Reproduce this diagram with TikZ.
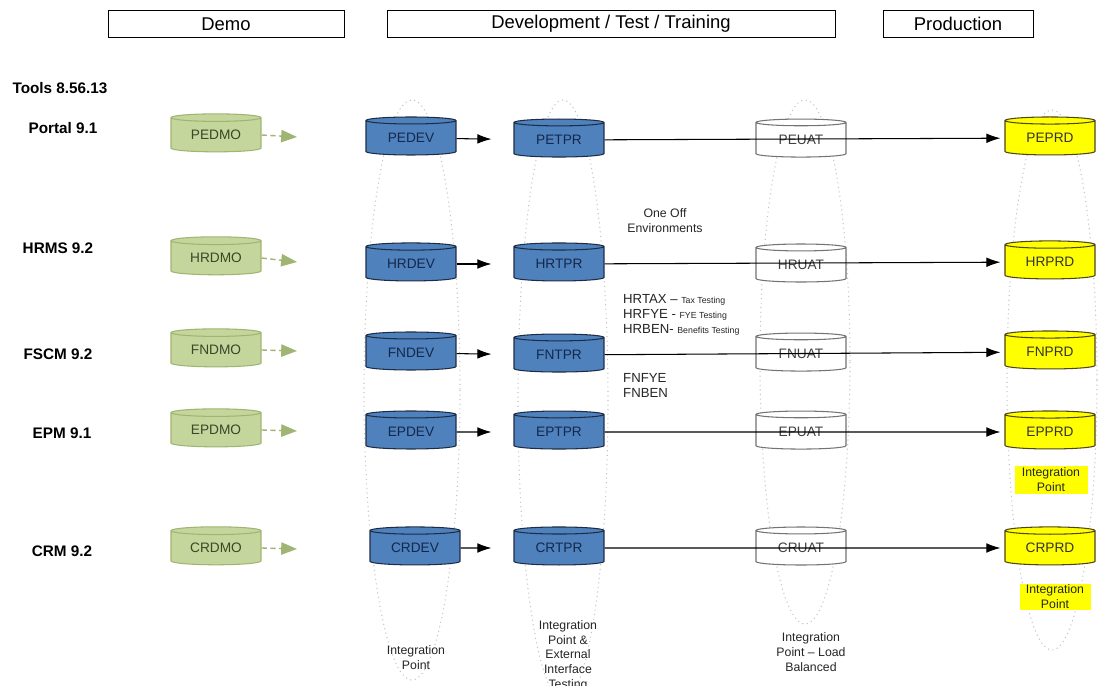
\documentclass[tikz,border=0pt]{standalone}
\usepackage{fontspec}
\setmainfont{Liberation Sans}
\usetikzlibrary{shapes.geometric,arrows.meta}

\definecolor{demofill}{RGB}{196,214,155}
\definecolor{demoedge}{RGB}{160,180,115}
\definecolor{demotext}{RGB}{60,70,40}
\definecolor{devfill}{RGB}{79,129,189}
\definecolor{devedge}{RGB}{30,45,70}
\definecolor{devtext}{RGB}{20,40,75}
\definecolor{prdfill}{RGB}{255,255,0}
\definecolor{prdedge}{RGB}{80,70,20}
\definecolor{ringgray}{RGB}{195,195,195}

\begin{document}
\begin{tikzpicture}[x=0.02cm, y=-0.02cm,
    db/.style={cylinder, shape border rotate=90, aspect=0.15, draw, line width=0.6pt,
      minimum width=1.8cm, minimum height=0.76cm, inner sep=0pt,
      font=\fontsize{7.8}{9}\selectfont},
    demodb/.style={db, draw=demoedge, fill=demofill, text=demotext},
    devdb/.style={db, draw=devedge, fill=devfill, text=devtext},
    uatdb/.style={db, draw=black!55, fill=white, text=black!75},
    prddb/.style={db, draw=prdedge, fill=prdfill, text=black!80},
    header/.style={draw, line width=0.5pt, minimum height=0.54cm, inner sep=0pt,
      font=\fontsize{10.5}{12}\selectfont},
    rowlabel/.style={font=\fontsize{8.7}{10}\selectfont\bfseries},
    note/.style={align=center, text=black!85, font=\fontsize{7}{8.5}\selectfont},
    ring/.style={ringgray, dotted, line width=0.6pt},
    demoarrow/.style={demoedge, densely dashed, line width=0.8pt,
      -{Triangle[length=9pt,width=7pt]}},
    flow/.style={line width=0.6pt, -{Latex[length=8pt,width=5.5pt]}}]

    \fill[white] (0,0) rectangle (1120,686);
    \useasboundingbox (0,0) rectangle (1120,686);

    % column headers
    \node[header, minimum width=4.72cm] (hdemo) at (226,24) {Demo};
    \node[header, minimum width=8.96cm] (hdev) at (611,24) {Development / Test / Training};
    \node[header, minimum width=3.0cm] (hprd) at (958,24) {Production};

    % row labels
    \node[rowlabel] (tools) at (60,88) {Tools 8.56.13};
    \node[rowlabel] (portal) at (63,128) {Portal 9.1};
    \node[rowlabel] (hrms) at (58,248) {HRMS 9.2};
    \node[rowlabel] (fscm) at (58,354) {FSCM 9.2};
    \node[rowlabel] (epm) at (62,433) {EPM 9.1};
    \node[rowlabel] (crm) at (62,551) {CRM 9.2};

    % dotted rings round the columns
    \draw[ring] (412,390) ellipse [x radius=48, y radius=290];
    \draw[ring] (563,400) ellipse [x radius=45, y radius=300];
    \draw[ring] (805,362) ellipse [x radius=45, y radius=262];
    \draw[ring] (1052,380) ellipse [x radius=45, y radius=270];

    % demo
    \node[demodb] (PEDMO) at (216,135) {PEDMO};
    \node[demodb] (HRDMO) at (216,258) {HRDMO};
    \node[demodb] (FNDMO) at (216,350) {FNDMO};
    \node[demodb] (EPDMO) at (216,430) {EPDMO};
    \node[demodb] (CRDMO) at (216,548) {CRDMO};
    \coordinate (PEout) at (297,137);
    \coordinate (HRout) at (297,262);
    \coordinate (FNout) at (297,351);
    \coordinate (EPout) at (297,431);
    \coordinate (CRout) at (297,549);
    \draw[demoarrow] (PEDMO.east) -- (PEout);
    \draw[demoarrow] (HRDMO.east) -- (HRout);
    \draw[demoarrow] (FNDMO.east) -- (FNout);
    \draw[demoarrow] (EPDMO.east) -- (EPout);
    \draw[demoarrow] (CRDMO.east) -- (CRout);

    % development
    \node[devdb] (PEDEV) at (411,138) {PEDEV};
    \node[devdb] (HRDEV) at (411,264) {HRDEV};
    \node[devdb] (FNDEV) at (411,353) {FNDEV};
    \node[devdb] (EPDEV) at (411,432) {EPDEV};
    \node[devdb] (CRDEV) at (415,548) {CRDEV};

    % test
    \node[devdb] (PETPR) at (559,140) {PETPR};
    \node[devdb] (HRTPR) at (559,264) {HRTPR};
    \node[devdb] (FNTPR) at (559,355) {FNTPR};
    \node[devdb] (EPTPR) at (559,432) {EPTPR};
    \node[devdb] (CRTPR) at (559,548) {CRTPR};

    % training / uat
    \node[uatdb] (PEUAT) at (801,140) {PEUAT};
    \node[uatdb] (HRUAT) at (801,265) {HRUAT};
    \node[uatdb] (FNUAT) at (801,354) {FNUAT};
    \node[uatdb] (EPUAT) at (801,432) {EPUAT};
    \node[uatdb] (CRUAT) at (801,548) {CRUAT};

    % production
    \node[prddb] (PEPRD) at (1050,138) {PEPRD};
    \node[prddb] (HRPRD) at (1050,262) {HRPRD};
    \node[prddb] (FNPRD) at (1050,352) {FNPRD};
    \node[prddb] (EPPRD) at (1050,432) {EPPRD};
    \node[prddb] (CRPRD) at (1050,548) {CRPRD};

    \draw[flow, shorten >=0.44cm] (PEDEV) -- (PETPR);
    \draw[flow, shorten >=0.44cm] (HRDEV) -- (HRTPR);
    \draw[flow, shorten >=0.44cm] (FNDEV) -- (FNTPR);
    \draw[flow, shorten >=0.44cm] (EPDEV) -- (EPTPR);
    \draw[flow, shorten >=0.44cm] (CRDEV) -- (CRTPR);

    \draw[flow, shorten >=0.08cm] (PETPR) -- (PEPRD);
    \draw[flow, shorten >=0.08cm] (HRTPR) -- (HRPRD);
    \draw[flow, shorten >=0.08cm] (FNTPR) -- (FNPRD);
    \draw[flow, shorten >=0.08cm] (EPTPR) -- (EPPRD);
    \draw[flow, shorten >=0.08cm] (CRTPR) -- (CRPRD);

    % notes
    \node[note] (oneoff) at (665,221) {One Off\\Environments};
    \node[note, align=left, anchor=north west, font=\fontsize{7.5}{8.5}\selectfont]
      (hrextra) at (617,288) {HRTAX -- {\fontsize{5}{6}\selectfont Tax Testing}\\
        HRFYE - {\fontsize{5}{6}\selectfont FYE Testing}\\
        HRBEN- {\fontsize{5}{6}\selectfont Benefits Testing}};
    \node[note, align=left, anchor=north west, font=\fontsize{7.5}{8.5}\selectfont]
      (fnextra) at (617,367) {FNFYE\\FNBEN};
    \node[note] (devnote) at (416,658) {Integration\\Point};
    \node[note, anchor=north] (tprnote) at (568,614) {Integration\\Point \&\\External\\Interface\\Testing};
    \node[note] (uatnote) at (811,652) {Integration\\Point -- Load\\Balanced};
    \node[note, fill=prdfill, minimum width=1.46cm, minimum height=0.58cm, inner sep=0pt]
      (eppoint) at (1051,480) {Integration\\Point};
    \node[note, fill=prdfill, minimum width=1.42cm, minimum height=0.52cm, inner sep=0pt]
      (crpoint) at (1055,597) {Integration\\Point};
\end{tikzpicture}
\end{document}
